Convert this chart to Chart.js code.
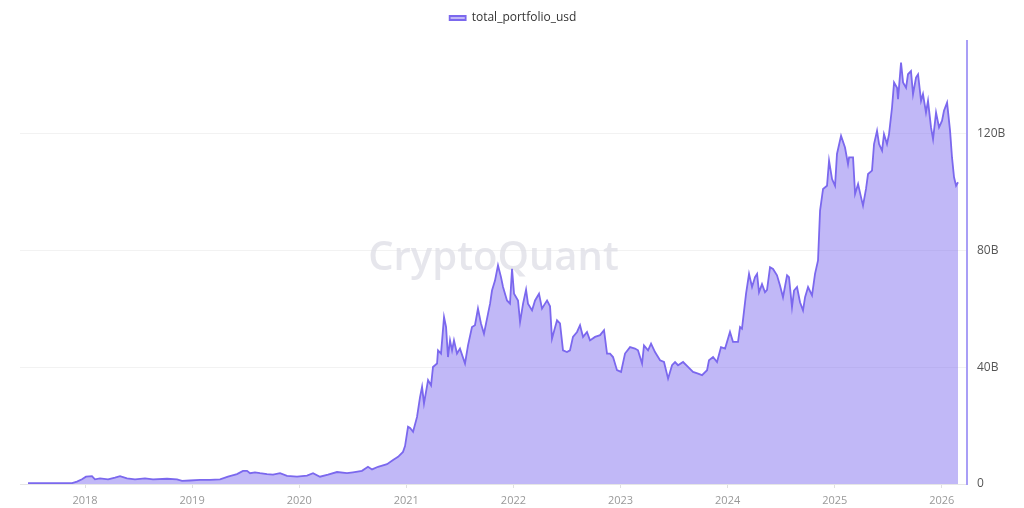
<!DOCTYPE html>
<html>
<head>
<meta charset="utf-8">
<script src="https://cdn.jsdelivr.net/npm/chart.js@4/dist/chart.umd.min.js"></script>
<style>
  html, body { margin: 0; padding: 0; background: #fff; }
  #chart { display: block; }
</style>
</head>
<body>
<canvas id="chart" width="1024" height="508"></canvas>
<script>
// ── Data (decimal year, value in billions USD) ───────────────────────────────

const years = [
  2017.468, 2017.673, 2017.879, 2017.925, 2017.972, 2018.009, 2018.065, 2018.093, 2018.140, 2018.215,
  2018.280, 2018.327, 2018.392, 2018.467, 2018.560, 2018.635, 2018.766, 2018.859, 2018.906, 2018.980,
  2019.074, 2019.167, 2019.261, 2019.335, 2019.419, 2019.475, 2019.513, 2019.541, 2019.587, 2019.634,
  2019.699, 2019.755, 2019.821, 2019.886, 2019.979, 2020.073, 2020.129, 2020.194, 2020.269, 2020.353,
  2020.446, 2020.502, 2020.586, 2020.642, 2020.680, 2020.736, 2020.820, 2020.876, 2020.923, 2020.969,
  2020.988, 2021.016, 2021.035, 2021.063, 2021.100, 2021.128, 2021.147, 2021.165, 2021.203, 2021.231,
  2021.249, 2021.287, 2021.296, 2021.324, 2021.352, 2021.371, 2021.389, 2021.408, 2021.427, 2021.445,
  2021.473, 2021.501, 2021.548, 2021.576, 2021.613, 2021.641, 2021.669, 2021.697, 2021.725, 2021.763,
  2021.782, 2021.800, 2021.828, 2021.856, 2021.884, 2021.903, 2021.940, 2021.968, 2021.987, 2022.006,
  2022.043, 2022.062, 2022.090, 2022.118, 2022.136, 2022.174, 2022.202, 2022.239, 2022.267, 2022.295,
  2022.314, 2022.342, 2022.360, 2022.407, 2022.435, 2022.463, 2022.500, 2022.528, 2022.556, 2022.594,
  2022.622, 2022.650, 2022.687, 2022.715, 2022.762, 2022.809, 2022.846, 2022.874, 2022.902, 2022.930,
  2022.967, 2023.005, 2023.042, 2023.089, 2023.135, 2023.163, 2023.201, 2023.219, 2023.257, 2023.285,
  2023.322, 2023.369, 2023.406, 2023.444, 2023.481, 2023.509, 2023.537, 2023.584, 2023.630, 2023.677,
  2023.724, 2023.761, 2023.808, 2023.826, 2023.864, 2023.901, 2023.938, 2023.976, 2024.022, 2024.050,
  2024.097, 2024.116, 2024.134, 2024.143, 2024.172, 2024.200, 2024.228, 2024.256, 2024.275, 2024.293,
  2024.321, 2024.349, 2024.368, 2024.396, 2024.424, 2024.461, 2024.489, 2024.517, 2024.555, 2024.573,
  2024.601, 2024.620, 2024.648, 2024.676, 2024.704, 2024.723, 2024.751, 2024.788, 2024.816, 2024.844,
  2024.863, 2024.891, 2024.928, 2024.947, 2024.975, 2025.003, 2025.021, 2025.059, 2025.096, 2025.124,
  2025.134, 2025.171, 2025.190, 2025.218, 2025.246, 2025.264, 2025.292, 2025.311, 2025.348, 2025.367,
  2025.395, 2025.414, 2025.442, 2025.460, 2025.488, 2025.507, 2025.535, 2025.554, 2025.582, 2025.591,
  2025.619, 2025.638, 2025.666, 2025.684, 2025.712, 2025.731, 2025.759, 2025.778, 2025.806, 2025.824,
  2025.852, 2025.871, 2025.899, 2025.918, 2025.946, 2025.974, 2026.002, 2026.020, 2026.049, 2026.077,
  2026.095, 2026.114, 2026.133, 2026.151
];

const values = [
  0.3, 0.3, 0.3, 0.8, 1.6, 2.5, 2.7, 1.6, 1.9, 1.6,
  2.2, 2.7, 1.9, 1.6, 1.9, 1.6, 1.8, 1.6, 1.1, 1.2,
  1.4, 1.4, 1.6, 2.5, 3.4, 4.5, 4.5, 3.7, 4.0, 3.7,
  3.4, 3.2, 3.7, 2.8, 2.5, 2.9, 3.7, 2.5, 3.2, 4.1,
  3.7, 4.0, 4.5, 5.9, 5.0, 5.9, 6.8, 8.2, 9.3, 11.0,
  13.0, 19.6, 19.2, 17.9, 23.0, 29.8, 33.3, 27.6, 35.6, 33.8,
  40.1, 41.3, 45.8, 44.7, 57.2, 53.8, 43.5, 49.2, 45.8, 49.2,
  44.7, 46.4, 41.3, 47.5, 53.8, 54.4, 60.1, 55.0, 51.5, 58.4,
  61.8, 66.3, 69.7, 74.9, 70.9, 67.5, 62.9, 61.8, 73.7, 65.2,
  62.9, 55.5, 61.8, 66.6, 61.8, 59.5, 62.9, 65.2, 60.1, 61.8,
  62.9, 60.9, 49.8, 56.1, 55.0, 45.8, 45.2, 45.8, 50.4, 52.1,
  54.4, 50.4, 52.1, 49.2, 50.4, 51.0, 52.7, 44.7, 44.7, 43.5,
  39.0, 38.4, 44.7, 46.9, 46.4, 45.8, 41.3, 47.5, 45.8, 48.1,
  45.2, 42.4, 41.8, 36.1, 40.7, 41.8, 40.7, 41.8, 40.1, 38.4,
  37.8, 37.3, 39.0, 42.4, 43.5, 41.8, 46.9, 46.4, 52.1, 48.7,
  48.7, 53.8, 53.2, 56.1, 65.2, 72.0, 67.5, 70.9, 72.0, 65.7,
  68.5, 65.7, 66.5, 74.3, 73.7, 71.5, 68.0, 64.0, 71.5, 70.9,
  60.6, 66.3, 67.5, 62.3, 59.5, 64.0, 67.5, 64.6, 72.0, 76.6,
  93.7, 101.1, 102.2, 110.8, 104.5, 102.2, 113.1, 119.3, 115.3, 109.6,
  111.9, 111.9, 99.4, 102.8, 98.2, 95.4, 101.1, 106.2, 107.4, 116.5,
  121.0, 116.5, 114.2, 119.9, 116.5, 119.9, 129.0, 137.6, 135.8, 131.9,
  144.4, 137.6, 135.8, 140.4, 141.5, 133.6, 139.3, 140.4, 131.3, 133.6,
  127.3, 131.3, 122.2, 118.2, 127.3, 122.2, 124.5, 127.9, 130.7, 121.0,
  111.9, 105.1, 102.2, 103.4
];

const yearTicks  = [2018, 2019, 2020, 2021, 2022, 2023, 2024, 2025, 2026];
const valueTicks = [0, 40, 80, 120];

// ── Style ─────────────────────────────────────────────────────────────────────

const LINE = "#7b68ee";
const FILL = "rgba(123,104,238,0.47)";
const FONT = "'Open Sans', 'Noto Sans', sans-serif";

// ── Plugins ───────────────────────────────────────────────────────────────────

const watermark = {
  id: "watermark",
  beforeDatasetsDraw(chart) {
    const { ctx, chartArea: a } = chart;
    ctx.save();
    ctx.font = `600 40px ${FONT}`;
    ctx.fillStyle = "rgba(222,222,230,0.75)";
    ctx.textAlign = "center";
    ctx.textBaseline = "middle";
    ctx.fillText("CryptoQuant", (a.left + a.right) / 2, (a.top + a.bottom) / 2 - 4);
    ctx.restore();
  },
};

// nudge legend up/left so it sits where the original one does
const legendNudge = {
  id: "legendNudge",
  afterLayout(chart) {
    const lg = chart.legend;
    if (!lg) return;
    lg.top -= 7; lg.bottom -= 7;
    lg.left -= 9; lg.right -= 9;
  },
};

// ── Chart ─────────────────────────────────────────────────────────────────────

new Chart(document.getElementById("chart"), {
  type: "line",
  data: {
    datasets: [{
      label: "total_portfolio_usd",
      data: years.map((x, i) => ({ x, y: values[i] })),
      borderColor: LINE,
      backgroundColor: FILL,
      borderWidth: 1.8,
      pointRadius: 0,
      tension: 0,
      fill: "origin",
    }],
  },
  options: {
    responsive: false,
    animation: false,
    devicePixelRatio: 1,
    layout: { padding: { left: 20, top: 9, right: 0, bottom: 0 } },
    plugins: {
      legend: {
        position: "top",
        labels: {
          boxWidth: 16,
          boxHeight: 4,
          padding: 10,
          color: "#333",
          font: { family: FONT, size: 12 },
        },
      },
      tooltip: { enabled: false },
    },
    scales: {
      x: {
        type: "linear",
        min: 2017.393,
        max: 2026.235,
        afterBuildTicks: axis => { axis.ticks = yearTicks.map(value => ({ value })); },
        afterFit: s => { s.height = 24; },
        ticks: {
          color: "#999",
          font: { family: FONT, size: 11 },
          padding: 6,
          maxRotation: 0,
          callback: v => String(v),
        },
        grid: { drawOnChartArea: false, drawTicks: true, tickLength: 4, color: "#e0e0e0" },
        border: { color: "#e6e6e6", width: 1 },
      },
      y: {
        position: "right",
        min: 0,
        max: 151.8,
        afterBuildTicks: axis => { axis.ticks = valueTicks.map(value => ({ value })); },
        afterFit: s => { s.width = 57; },
        ticks: {
          color: "#555",
          font: { family: FONT, size: 12 },
          padding: 10,
          callback: v => (v === 0 ? "0" : v + "B"),
        },
        grid: { color: "#f2f2f2", drawTicks: false },
        border: { color: "#a99ef6", width: 2 },
      },
    },
  },
  plugins: [watermark, legendNudge],
});
</script>
</body>
</html>
